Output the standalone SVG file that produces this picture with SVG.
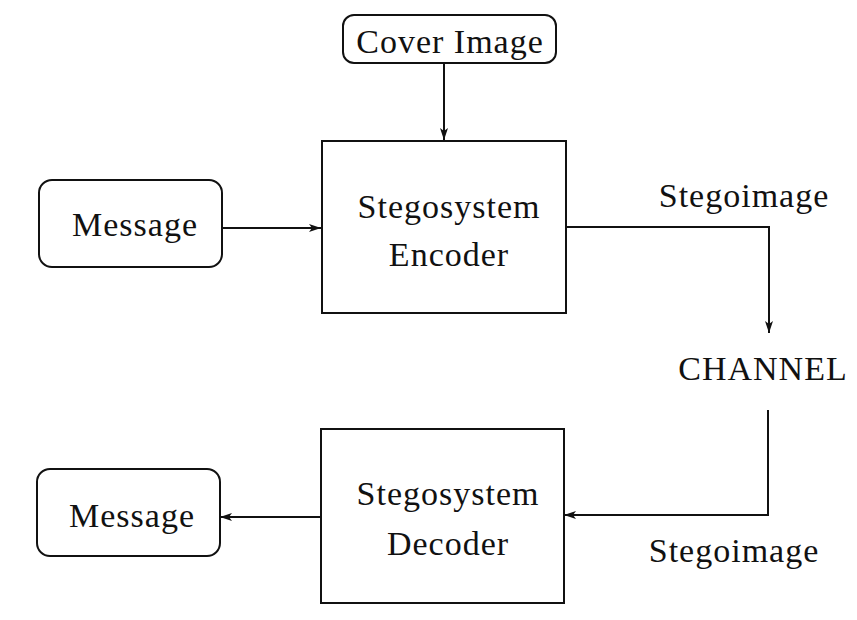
<svg xmlns="http://www.w3.org/2000/svg" width="857" height="620" viewBox="0 0 857 620">
  <style>
    .box { fill: none; stroke: #111; stroke-width: 2; }
    .wire { fill: none; stroke: #111; stroke-width: 2; }
    .lbl { font-family: "Liberation Serif", "Times New Roman", serif; font-size: 34px; fill: #111; text-anchor: middle; letter-spacing: 1px; }
  </style>
  <defs>
    <marker id="arrow" viewBox="0 0 12 8" refX="12" refY="4" markerWidth="12" markerHeight="8" markerUnits="userSpaceOnUse" orient="auto">
      <path d="M0,0 L12,4 L0,8 L3,4 Z" fill="#111"/>
    </marker>
  </defs>
  <rect width="857" height="620" fill="#fff"/>

  <g id="connectors">
    <line class="wire" x1="444" y1="63" x2="444" y2="140" marker-end="url(#arrow)"/>
    <line class="wire" x1="222" y1="228" x2="321" y2="228" marker-end="url(#arrow)"/>
    <polyline class="wire" points="566,227 769,227 769,333" marker-end="url(#arrow)"/>
    <polyline class="wire" points="768,410 768,515 564,515" marker-end="url(#arrow)"/>
    <line class="wire" x1="321" y1="517" x2="220" y2="517" marker-end="url(#arrow)"/>
  </g>

  <g id="cover-image">
    <rect class="box" x="343" y="15" width="213" height="48" rx="11"/>
    <text class="lbl" x="450" y="53">Cover Image</text>
  </g>

  <g id="message-in">
    <rect class="box" x="39" y="180" width="183" height="87" rx="13"/>
    <text class="lbl" x="135" y="236">Message</text>
  </g>

  <g id="encoder">
    <rect class="box" x="322" y="141" width="244" height="172"/>
    <text class="lbl" x="449" y="218">Stegosystem</text>
    <text class="lbl" x="449" y="266">Encoder</text>
  </g>

  <g id="stegoimage-out">
    <text class="lbl" x="744" y="207">Stegoimage</text>
  </g>

  <g id="channel">
    <text class="lbl" x="763" y="380">CHANNEL</text>
  </g>

  <g id="stegoimage-in">
    <text class="lbl" x="734" y="562">Stegoimage</text>
  </g>

  <g id="decoder">
    <rect class="box" x="321" y="429" width="243" height="174"/>
    <text class="lbl" x="448" y="505">Stegosystem</text>
    <text class="lbl" x="448" y="555">Decoder</text>
  </g>

  <g id="message-out">
    <rect class="box" x="37" y="469" width="183" height="87" rx="13"/>
    <text class="lbl" x="132" y="527">Message</text>
  </g>
</svg>
